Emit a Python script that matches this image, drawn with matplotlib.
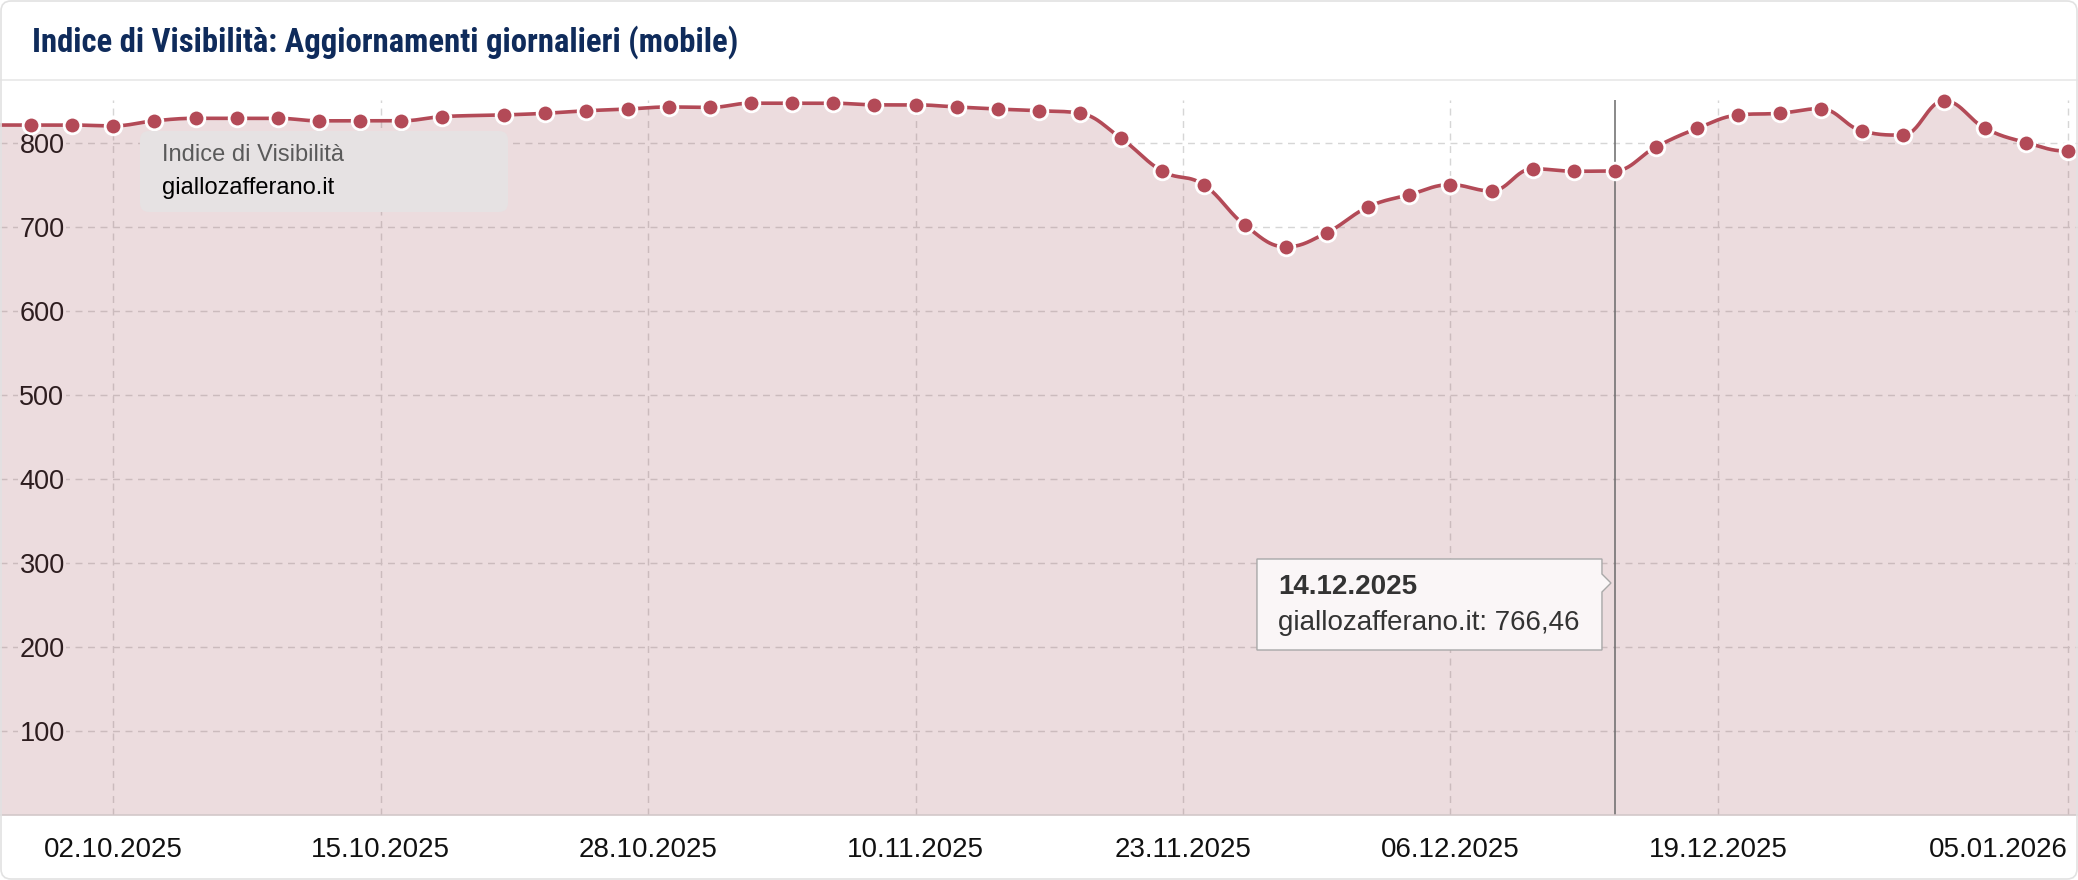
import numpy as np
import matplotlib
matplotlib.use("Agg")
import matplotlib.pyplot as plt
import matplotlib.dates as mdates
from matplotlib.patches import FancyBboxPatch, Polygon
from matplotlib.transforms import IdentityTransform
from matplotlib.lines import Line2D

W, H = 2078, 880

# ── data ──────────────────────────────────────────────────────────────
dates = np.array([
    "2025-09-26", "2025-09-28", "2025-09-30", "2025-10-02", "2025-10-04",
    "2025-10-06", "2025-10-08", "2025-10-10", "2025-10-12", "2025-10-14",
    "2025-10-16", "2025-10-18", "2025-10-21", "2025-10-23", "2025-10-25",
    "2025-10-27", "2025-10-29", "2025-10-31", "2025-11-02", "2025-11-04",
    "2025-11-06", "2025-11-08", "2025-11-10", "2025-11-12", "2025-11-14",
    "2025-11-16", "2025-11-18", "2025-11-20", "2025-11-22", "2025-11-24",
    "2025-11-26", "2025-11-28", "2025-11-30", "2025-12-02", "2025-12-04",
    "2025-12-06", "2025-12-08", "2025-12-10", "2025-12-12", "2025-12-14",
    "2025-12-16", "2025-12-18", "2025-12-20", "2025-12-22", "2025-12-24",
    "2025-12-26", "2025-12-28", "2025-12-30", "2026-01-01", "2026-01-03",
    "2026-01-05", "2026-01-07",
], dtype="datetime64[D]")

values = [
    821, 821, 821, 820, 826,
    829, 829, 829, 826, 826,
    826, 831, 833, 835, 838,
    840, 842.5, 842, 847, 847,
    847, 845, 845, 842.5, 840,
    838, 835, 805, 766, 750,
    702, 676, 693, 723.5, 738,
    750, 742.5, 769, 766, 766.46,
    795, 817, 833, 835, 840.5,
    814, 809, 850, 817, 800,
    790, 792,
]

tick_dates = np.array([
    "2025-10-02", "2025-10-15", "2025-10-28", "2025-11-10",
    "2025-11-23", "2025-12-06", "2025-12-19", "2026-01-05",
], dtype="datetime64[D]")
tick_labels = ["02.10.2025", "15.10.2025", "28.10.2025", "10.11.2025",
               "23.11.2025", "06.12.2025", "19.12.2025", "05.01.2026"]
y_ticks = [100, 200, 300, 400, 500, 600, 700, 800]

cursor_date = np.datetime64("2025-12-14")
tooltip_title = "14.12.2025"
tooltip_text = "giallozafferano.it: 766,46"
legend_title = "Indice di Visibilità"
series_name = "giallozafferano.it"
title = "Indice di Visibilità: Aggiornamenti giornalieri (mobile)"

LINE = "#b34a57"
FILL = "#a0505a"


def spline(x, y, smoothing=1.5, steps=30):
    """Highcharts-style spline: bezier control points per point."""
    x = np.asarray(x, float)
    y = np.asarray(y, float)
    n = len(x)
    lcx, lcy, rcx, rcy = x.copy(), y.copy(), x.copy(), y.copy()
    denom = smoothing + 1
    for i in range(1, n - 1):
        px, py = x[i], y[i]
        lx, ly, nx, ny = x[i - 1], y[i - 1], x[i + 1], y[i + 1]
        a = (smoothing * px + lx) / denom
        b = (smoothing * py + ly) / denom
        c = (smoothing * px + nx) / denom
        d = (smoothing * py + ny) / denom
        corr = 0.0
        if c != a:
            corr = (d - b) * (c - px) / (c - a) + py - d
        b += corr
        d += corr
        if b > ly and b > py:
            b = max(ly, py); d = 2 * py - b
        elif b < ly and b < py:
            b = min(ly, py); d = 2 * py - b
        if d > ny and d > py:
            d = max(ny, py); b = 2 * py - d
        elif d < ny and d < py:
            d = min(ny, py); b = 2 * py - d
        lcx[i], lcy[i], rcx[i], rcy[i] = a, b, c, d
    t = np.linspace(0, 1, steps)[:, None]
    xs, ys = [x[:1]], [y[:1]]
    for i in range(1, n):
        P = np.array([[x[i - 1], y[i - 1]], [rcx[i - 1], rcy[i - 1]],
                      [lcx[i], lcy[i]], [x[i], y[i]]])
        seg = ((1 - t) ** 3 * P[0] + 3 * (1 - t) ** 2 * t * P[1]
               + 3 * (1 - t) * t ** 2 * P[2] + t ** 3 * P[3])[1:]
        xs.append(seg[:, 0])
        ys.append(seg[:, 1])
    return np.concatenate(xs), np.concatenate(ys)


# ── figure ────────────────────────────────────────────────────────────
fig = plt.figure(figsize=(W / 100, H / 100), dpi=100, facecolor="white")
ax = fig.add_axes([0, (H - 814.7) / H, 1, (814.7 - 100) / H])
ax.set_facecolor("none")

xnum = mdates.date2num(dates)
x0 = mdates.date2num(np.datetime64("2025-10-02"))
ax.set_xlim(x0 - 5.51, x0 + 95.51)
ax.set_ylim(0, 850.8)

xs, ys = spline(xnum, values)
ax.fill_between(xs, ys, 0, facecolor=FILL, alpha=0.2, lw=0, zorder=1, clip_on=False)
ax.plot(xs, ys, color=LINE, lw=2.6, zorder=3, clip_on=False, solid_capstyle="round")
ax.plot(xnum, values, "o", ms=12, mfc=LINE, mec="white", mew=2.0, zorder=4, clip_on=False)

cursor = mdates.date2num(cursor_date)
ax.axvline(cursor, color="#6a6a6a", lw=1.1, zorder=2.5)

# grid / axes
ax.set_axisbelow(True)
ax.grid(True, color="#d6d6d6", lw=1.0, linestyle=(0, (5, 4)))
for s in ["left", "right", "top"]:
    ax.spines[s].set_visible(False)
ax.spines["bottom"].set_color("#cfc3c5")
ax.spines["bottom"].set_linewidth(1.1)

ax.set_xticks(mdates.date2num(tick_dates), labels=tick_labels)
ax.tick_params(axis="x", length=0, pad=16, labelsize=20, labelcolor="#111111")
for lbl in ax.get_xticklabels():
    lbl.set_fontfamily("Liberation Sans")
ax.get_xticklabels()[-1].set_ha("right")

ax.set_yticks(y_ticks, labels=[str(v) for v in y_ticks])
ax.tick_params(axis="y", length=0, pad=-14, labelsize=19.5, labelcolor="#111111")
for lbl in ax.get_yticklabels():
    lbl.set_ha("left")
    lbl.set_fontfamily("Liberation Sans")
    # white backing; the translucent fill is drawn over it afterwards
    lbl.set_bbox(dict(facecolor="white", edgecolor="none", pad=1))

# ── header ────────────────────────────────────────────────────────────
fig.text(32 / W, 1 - 42 / H, title, fontsize=23.6, fontweight="bold",
         color="#0f2b5b", va="center", ha="left",
         family=["Liberation Sans Narrow", "Roboto Condensed", "Liberation Sans"])
fig.add_artist(Line2D([0, 1], [1 - 80 / H, 1 - 80 / H], color="#e8e8e8", lw=1.2))

# ── legend box ────────────────────────────────────────────────────────
px = IdentityTransform()
fig.add_artist(FancyBboxPatch((140, H - 212), 368, 81,
                              boxstyle="round,pad=0,rounding_size=9",
                              transform=px, facecolor="#e6e2e3",
                              edgecolor="none", zorder=5))
fig.text(162, H - 155, legend_title, transform=px, fontsize=17,
         color="#5a5a5a", va="center", family="Liberation Sans", zorder=6)
fig.text(162, H - 188, series_name, transform=px, fontsize=17,
         color="#000000", va="center", family="Liberation Sans", zorder=6)

# ── tooltip ───────────────────────────────────────────────────────────
cx = ax.transData.transform((cursor, 0))[0]
tip = cx - 4
right = tip - 9
left = right - 345
top, bottom, ay = H - 559, H - 650, H - 583
shape = [(left, top), (right, top), (right, ay + 9), (tip, ay),
         (right, ay - 9), (right, bottom), (left, bottom)]
fig.add_artist(Polygon(shape, closed=True, transform=px, facecolor="#faf6f7",
                       edgecolor="#a8a8a8", lw=1.0, zorder=5))
fig.text(left + 21, H - 587, tooltip_title, transform=px, fontsize=20,
         fontweight="bold", color="#333333", va="center",
         family="Liberation Sans", zorder=6)
fig.text(left + 21, H - 623, tooltip_text, transform=px, fontsize=20,
         color="#333333", va="center", family="Liberation Sans", zorder=6)

# card border
fig.add_artist(FancyBboxPatch((1, 1), W - 2, H - 2,
                              boxstyle="round,pad=0,rounding_size=10",
                              transform=px, facecolor="none",
                              edgecolor="#e2e2e2", lw=1.2, zorder=10))

fig.savefig("out.png", dpi=100, facecolor="white")
